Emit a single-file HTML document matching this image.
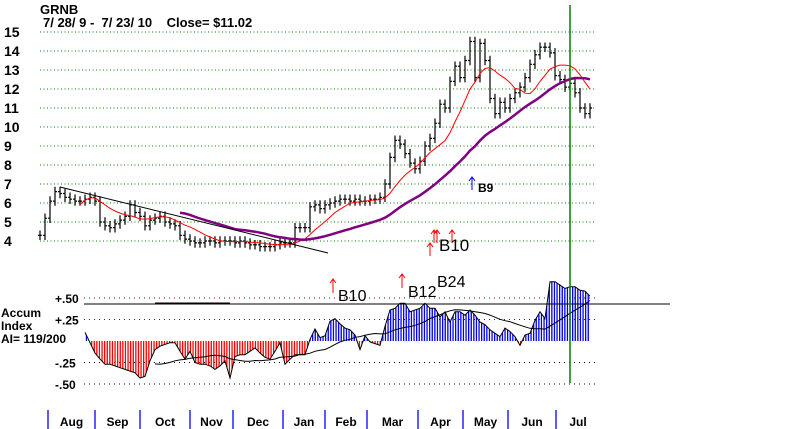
<!DOCTYPE html>
<html><head><meta charset="utf-8"><style>
body{margin:0;background:#fff;}
svg{display:block;font-family:"Liberation Sans",sans-serif;}
</style></head><body>
<svg id="c" width="800" height="429">
<defs>
<pattern id="pb" width="2.6" height="4" patternUnits="userSpaceOnUse"><rect x="0" y="0" width="1.3" height="4" fill="#0000ff"/></pattern>
<pattern id="pr" width="2.6" height="4" patternUnits="userSpaceOnUse"><rect x="0" y="0" width="1.3" height="4" fill="#ff0000"/></pattern>
<clipPath id="cpos"><rect x="0" y="0" width="800" height="341"/></clipPath>
<clipPath id="cneg"><rect x="0" y="341" width="800" height="100"/></clipPath>
</defs>
<text x="40" y="14" font-size="13" font-weight="bold">GRNB</text>
<text x="43" y="27" font-size="13" font-weight="bold" style="white-space:pre" xml:space="preserve">7/ 28/ 9 -  7/ 23/ 10    Close= $11.02</text>
<g id="grid"></g>
<g id="acc"></g>
<g id="price"></g>
<line x1="60" y1="187" x2="328" y2="253" stroke="#000" stroke-width="1"/>
<line x1="570" y1="5" x2="570" y2="383" stroke="#008000" stroke-width="1.5"/>
<g fill="none" stroke="#0000ff"><path d="M472 190V177M469 181L472 177L475 181"/></g>
<text x="478" y="192" font-size="12" font-weight="bold">B9</text>
<g fill="none" stroke="#ff0000"><path d="M430 256V243M427 247L430 243L433 247M434 243V230M431 234L434 230L437 234M437 243V230M434 234L437 230L440 234M452 243V230M449 234L452 230L455 234"/></g>
<text x="439" y="251" font-size="17">B10</text>
<g fill="none" stroke="#ff0000"><path d="M333 293V279M330 283L333 279L336 283M402 288V274M399 278L402 274L405 278"/></g>
<text x="338" y="301" font-size="16">B10</text>
<text x="408" y="297" font-size="16">B12</text>
<text x="437" y="287" font-size="16">B24</text>
<text x="1" y="317" font-size="12" font-weight="bold">Accum</text>
<text x="1" y="330" font-size="12" font-weight="bold">Index</text>
<text x="1" y="343" font-size="12" font-weight="bold">AI= 119/200</text>
<g id="months"></g>
</svg>
<script>
const closes=[4.3,5.2,6.1,6.6,6.5,6.3,6.2,6.1,6.1,6.2,6.3,6.1,5.0,4.8,4.7,4.9,5.1,5.3,5.9,5.5,5.3,4.8,5.1,5.2,5.3,5.0,4.9,4.8,4.3,4.1,4.0,3.9,3.9,4.0,4.0,3.9,4.0,4.0,4.0,3.9,4.0,3.9,3.8,3.8,3.7,3.7,3.7,3.8,3.9,3.9,3.9,4.7,4.7,4.7,5.8,5.9,5.7,5.9,6.0,6.1,6.2,6.2,6.1,6.2,6.1,6.1,6.2,6.2,6.3,7.0,8.4,9.3,9.1,8.6,8.1,7.8,8.2,9.0,9.4,10.2,11.2,11.0,12.4,13.2,12.6,13.5,14.5,12.6,14.4,13.5,11.5,10.7,11.3,11.0,11.5,11.8,12.1,12.6,13.3,13.8,14.2,14.2,13.9,12.7,12.5,12.1,12.3,11.8,11.0,10.7,11.0];
const accum=[0.1,-0.02,-0.14,-0.21,-0.27,-0.27,-0.29,-0.31,-0.33,-0.35,-0.37,-0.43,-0.41,-0.23,-0.1,-0.06,-0.04,-0.02,-0.02,-0.12,-0.21,-0.12,-0.25,-0.27,-0.27,-0.29,-0.33,-0.29,-0.23,-0.43,-0.18,-0.16,-0.16,-0.12,-0.08,-0.14,-0.19,-0.21,-0.12,-0.02,-0.27,-0.21,-0.16,-0.16,-0.16,0.02,0.14,0.04,0.06,0.23,0.26,0.2,0.15,0.13,0.07,-0.1,0.06,-0.01,-0.03,-0.05,0.17,0.36,0.38,0.44,0.44,0.34,0.36,0.38,0.44,0.38,0.38,0.28,0.34,0.22,0.34,0.34,0.3,0.36,0.3,0.22,0.19,0.13,0.09,0.05,0.15,0.11,0.05,-0.05,0.07,0.09,0.24,0.34,0.26,0.69,0.69,0.65,0.61,0.63,0.63,0.59,0.58,0.52];
const priceTicks=[4,5,6,7,8,9,10,11,12,13,14,15];
const accTicks=[0.5,0.25,-0.25,-0.5];
const accTickLabels=["+.50","+.25","-.25","-.50"];
const months=["Aug","Sep","Oct","Nov","Dec","Jan","Feb","Mar","Apr","May","Jun","Jul"];
const monthStart=[48,95,140,190,233,283,325,367,418,463,508,556];
const NS="http://www.w3.org/2000/svg";
const N=closes.length;
const xP=i=>40+i*(550/(N-1));
const xA=i=>85+i*(505/(accum.length-1));
const yP=p=>32+(15-p)*19;
const yA=v=>341-v*86;
function mk(tag,attrs,parent){const e=document.createElementNS(NS,tag);for(const k in attrs)e.setAttribute(k,attrs[k]);parent.appendChild(e);return e;}
const G=document.getElementById('grid'),A=document.getElementById('acc'),P=document.getElementById('price'),M=document.getElementById('months');
priceTicks.forEach(p=>{
 const l=mk('line',{x1:40,x2:596,y1:yP(p),y2:yP(p),stroke:'#008000','stroke-dasharray':'1 2.5','stroke-width':1},G);
 
 
 const t=mk('text',{x:4,y:yP(p)+5,'font-size':14,'font-weight':'bold'},G);t.textContent=p;
 
 
});
accTicks.forEach((v,i)=>{
 const l=mk('line',{x1:84,x2:596,y1:yA(v),y2:yA(v),stroke:i<2?'#800000':'#000','stroke-dasharray':'1 4','stroke-width':1},G);
 
 
 const t=mk('text',{x:55,y:yA(v)+5,'font-size':12,'font-weight':'bold'},G);t.textContent=accTickLabels[i];
 
 
});
let d='M'+xA(0)+' '+yA(0);accum.forEach((v,i)=>d+='L'+xA(i).toFixed(1)+' '+yA(v).toFixed(1));d+='L'+xA(accum.length-1)+' '+yA(0)+'Z';
const ap=mk('path',{d:d,fill:'url(#pb)','clip-path':'url(#cpos)'},A);


const an=mk('path',{d:d,fill:'url(#pr)','clip-path':'url(#cneg)'},A);


const ao=mk('polyline',{points:accum.map((v,i)=>xA(i).toFixed(1)+','+yA(v).toFixed(1)).join(' '),fill:'none',stroke:'#000','stroke-width':1},A);


function ma(arr,n,start,xf){const pts=[];for(let i=start;i<arr.length;i++){let s=0,c=0;for(let j=Math.max(0,i-n+1);j<=i;j++){s+=arr[j];c++;}pts.push([xf(i),s/c]);}return pts;}
const am=mk('polyline',{points:ma(accum,14,14,xA).map(p=>p[0].toFixed(1)+','+yA(p[1]).toFixed(1)).join(' '),fill:'none',stroke:'#000','stroke-width':1},A);


const zl=mk('line',{x1:84,x2:670,y1:304,y2:304,stroke:'#000','stroke-width':1},A);


const zl2=mk('line',{x1:155,x2:230,y1:303,y2:303,stroke:'#000','stroke-width':1},A);


closes.forEach((c,i)=>{
 const x=xP(i),prev=i?closes[i-1]:c;
 const hi=Math.max(c,prev)+0.25,lo=Math.min(c,prev)-0.25;
 const b=mk('path',{d:`M${x.toFixed(1)} ${yP(hi).toFixed(1)}V${yP(lo).toFixed(1)}M${(x-2).toFixed(1)} ${yP(prev).toFixed(1)}H${x.toFixed(1)}M${x.toFixed(1)} ${yP(c).toFixed(1)}H${(x+2).toFixed(1)}`,stroke:'#000','stroke-width':1.2,fill:'none'},P);
 
 
});
const r=mk('polyline',{points:ma(closes,9,8,xP).map(p=>p[0].toFixed(1)+','+yP(p[1]).toFixed(1)).join(' '),fill:'none',stroke:'#ff0000','stroke-width':1},P);


const pu=mk('polyline',{points:ma(closes,28,28,xP).map(p=>p[0].toFixed(1)+','+yP(p[1]).toFixed(1)).join(' '),fill:'none',stroke:'#800080','stroke-width':2.5},P);


months.forEach((m,i)=>{
 const l=mk('line',{x1:monthStart[i],x2:monthStart[i],y1:410,y2:429,stroke:'#0000ff','stroke-width':1.3},M);
 
 
 const nx=i<months.length-1?monthStart[i+1]:600;
 const t=mk('text',{x:(monthStart[i]+nx)/2,y:426,'font-size':12,'font-weight':'bold','text-anchor':'middle'},M);t.textContent=m;
 
 
});
</script>
</body></html>
